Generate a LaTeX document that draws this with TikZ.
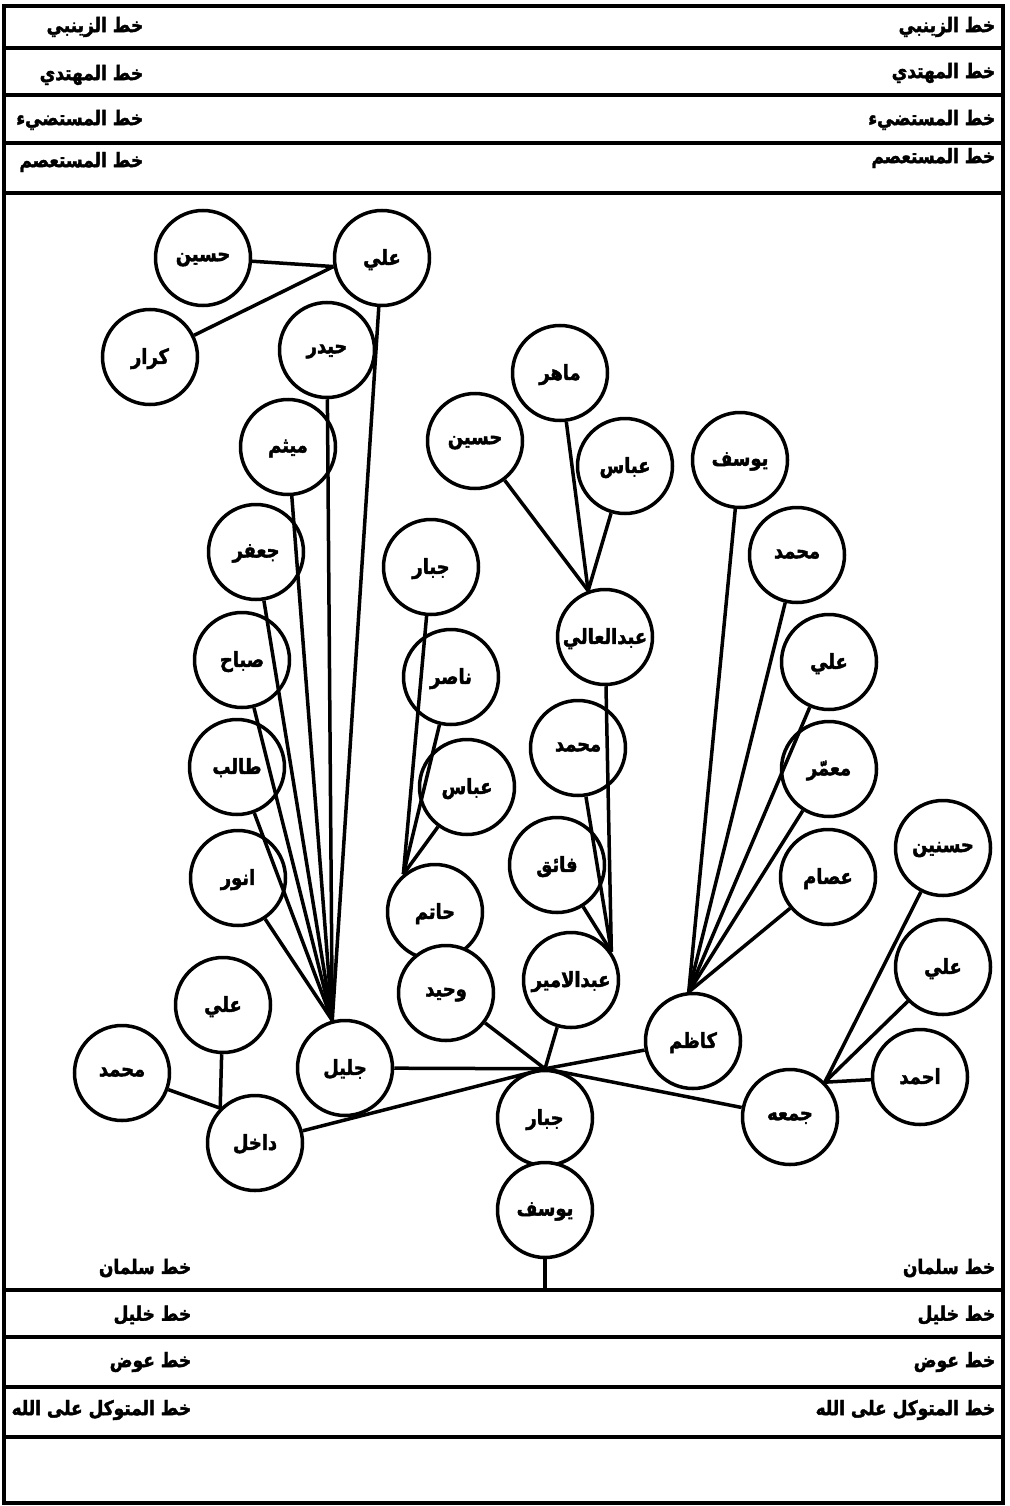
\documentclass[tikz,border=0pt]{standalone}
\usepackage{fontspec}
\newfontfamily\arabicfont[Script=Arabic,FakeStretch=0.85,BoldFeatures={FakeBold=2}]{DejaVu Sans}
\TeXXeTstate=1
\newcommand\arname[1]{\arabicfont\bfseries\beginR #1\endR}
\begin{document}
\begin{tikzpicture}[x=1pt,y=-1pt,line width=3.5pt,
    person/.style={circle,draw,fill=white,minimum size=95pt,inner sep=0pt,text depth=2pt,font=\fontsize{21}{23}\selectfont},
    rowlabel/.style={anchor=east,inner sep=0pt,font=\fontsize{20}{22}\selectfont}]
  \useasboundingbox (0,0) rectangle (1009,1506);
  % frame and rows
  \draw[line width=4pt] (4,6) rectangle (1003,1503);
  \foreach \y in {48,95,143,193,1290,1337,1387,1437} \draw (4,\y)--(1003,\y);
  \node[rowlabel] (zaynabiR) at (997,27) {\arname{خط الزينبي}};
  \node[rowlabel] (zaynabiL) at (145,27) {\arname{خط الزينبي}};
  \node[rowlabel] (muhtadiR) at (997,73) {\arname{خط المهتدي}};
  \node[rowlabel] (muhtadiL) at (145,75) {\arname{خط المهتدي}};
  \node[rowlabel] (mustadiR) at (997,120) {\arname{خط المستضيء}};
  \node[rowlabel] (mustadiL) at (145,120) {\arname{خط المستضيء}};
  \node[rowlabel] (mustasimR) at (997,158) {\arname{خط المستعصم}};
  \node[rowlabel] (mustasimL) at (145,162) {\arname{خط المستعصم}};
  \node[rowlabel] (salmanR) at (997,1268) {\arname{خط سلمان}};
  \node[rowlabel] (salmanL) at (193,1268) {\arname{خط سلمان}};
  \node[rowlabel] (khalilR) at (997,1315) {\arname{خط خليل}};
  \node[rowlabel] (khalilL) at (193,1315) {\arname{خط خليل}};
  \node[rowlabel] (awadR) at (997,1362) {\arname{خط عوض}};
  \node[rowlabel] (awadL) at (193,1362) {\arname{خط عوض}};
  \node[rowlabel] (mutawakkilR) at (997,1410) {\arname{خط المتوكل على الله}};
  \node[rowlabel] (mutawakkilL) at (193,1410) {\arname{خط المتوكل على الله}};
  % jalil branch
  \node[person] (husain) at (203,258) {\arname{حسين}};
  \node[person] (ali) at (382,258) {\arname{علي}};
  \node[person] (karrar) at (150,357) {\arname{كرار}};
  \node[person] (haidar) at (327,350) {\arname{حيدر}};
  \node[person] (maytham) at (288,447) {\arname{ميثم}};
  \node[person] (jaafar) at (256,552) {\arname{جعفر}};
  \node[person] (sabah) at (242,660) {\arname{صباح}};
  \node[person] (talib) at (237,767) {\arname{طالب}};
  \node[person] (anwar) at (238,878) {\arname{انور}};
  \node[person] (jalil) at (345,1068) {\arname{جليل}};
  % dakhil branch
  \node[person] (aliD) at (223,1005) {\arname{علي}};
  \node[person] (muhammadD) at (122,1073) {\arname{محمد}};
  \node[person] (dakhil) at (255,1143) {\arname{داخل}};
  % hatim and wahid
  \node[person] (jabbar) at (431,567) {\arname{جبار}};
  \node[person] (nasir) at (451,677) {\arname{ناصر}};
  \node[person] (abbas) at (467,787) {\arname{عباس}};
  \node[person] (hatim) at (435,912) {\arname{حاتم}};
  \node[person] (wahid) at (446,993) {\arname{وحيد}};
  % abdalamir branch
  \node[person] (mahir) at (560,373) {\arname{ماهر}};
  \node[person] (husainA) at (475,441) {\arname{حسين}};
  \node[person] (abbasA) at (625,466) {\arname{عباس}};
  \node[person] (abdalali) at (605,637) {\arname{عبدالعالي}};
  \node[person] (muhammadA) at (578,748) {\arname{محمد}};
  \node[person] (faiq) at (557,865) {\arname{فائق}};
  \node[person] (abdalamir) at (571,980) {\arname{عبدالامير}};
  % kazim branch
  \node[person] (yusufK) at (740,460) {\arname{يوسف}};
  \node[person] (muhammadK) at (797,555) {\arname{محمد}};
  \node[person] (aliK) at (829,662) {\arname{علي}};
  \node[person] (muammar) at (829,769) {\arname{معمّر}};
  \node[person] (isam) at (828,877) {\arname{عصام}};
  \node[person] (kazim) at (693,1041) {\arname{كاظم}};
  % jumaa branch
  \node[person] (hasanain) at (943,848) {\arname{حسنين}};
  \node[person] (aliJ) at (943,967) {\arname{علي}};
  \node[person] (ahmad) at (920,1077) {\arname{احمد}};
  \node[person] (jumaa) at (790,1117) {\arname{جمعه}};
  % root
  \node[person] (jabbarR) at (545,1118) {\arname{جبار}};
  \node[person] (yusufR) at (545,1210) {\arname{يوسف}};
  \coordinate (hub) at (jabbarR.north);
  \coordinate (stem) at (545,1290);
  % connectors
  \draw (husain) -- (ali.190) (karrar) -- (ali.190);
  \foreach \n in {ali,haidar,maytham,jaafar,sabah,talib,anwar} \draw (\n) -- (jalil.105);
  \foreach \n in {aliD,muhammadD} \draw (\n) -- (dakhil.135);
  \foreach \n in {jabbar,nasir,abbas} \draw (\n) -- (hatim.130);
  \foreach \n in {mahir,husainA,abbasA} \draw (\n) -- (abdalali.110);
  \foreach \n in {abdalali,muhammadA,faiq} \draw (\n) -- (abdalamir.35);
  \foreach \n in {yusufK,muhammadK,aliK,muammar,isam} \draw (\n) -- (kazim.95);
  \foreach \n in {hasanain,aliJ,ahmad} \draw (\n) -- (jumaa.45);
  \foreach \n in {jalil,dakhil,wahid,abdalamir,kazim,jumaa} \draw (\n) -- (hub);
  \draw (yusufR) -- (stem);
\end{tikzpicture}
\end{document}
